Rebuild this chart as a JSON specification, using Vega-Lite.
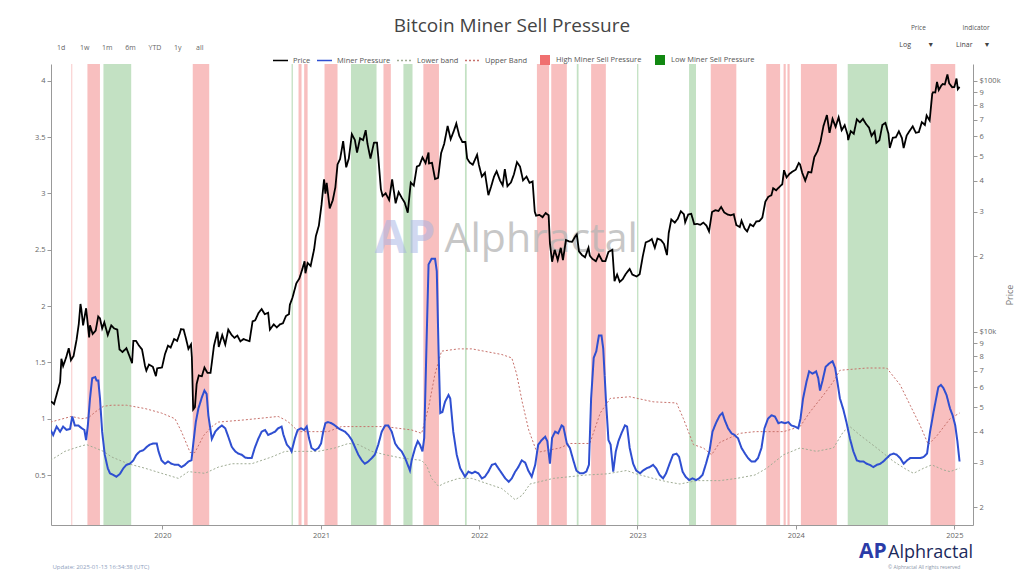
{
  "$schema": "https://vega.github.io/schema/vega-lite/v6.json",
  "width": 922,
  "height": 461,
  "autosize": {"type": "none"},
  "padding": {"left": 51, "top": 64, "right": 51, "bottom": 51},
  "title": {"text": "Bitcoin Miner Sell Pressure", "fontSize": 19, "font": "Open Sans", "fontWeight": "normal", "color": "#444444", "anchor": "middle", "offset": -11},
  "config": {
    "view": {"stroke": null},
    "font": "Open Sans",
    "axis": {"grid": false, "labelFont": "Open Sans", "labelFontSize": 7.5, "labelColor": "#666666", "domainColor": "#999999", "tickColor": "#999999", "tickSize": 4, "labelPadding": 2, "titleFont": "Open Sans", "titleFontWeight": "normal", "titleColor": "#777777", "titleFontSize": 9},
    "legend": {"labelFont": "Open Sans", "labelFontSize": 7.5, "labelColor": "#555555", "padding": 0}
  },
  "datasets": {
    "high": [
      {"d": "2019-06-05", "d2": "2019-06-07"},
      {"d": "2019-07-12", "d2": "2019-08-10"},
      {"d": "2020-03-11", "d2": "2020-04-18"},
      {"d": "2020-11-10", "d2": "2020-11-17"},
      {"d": "2020-11-23", "d2": "2020-12-01"},
      {"d": "2021-01-09", "d2": "2021-02-08"},
      {"d": "2021-05-25", "d2": "2021-06-11"},
      {"d": "2021-08-25", "d2": "2021-09-30"},
      {"d": "2022-05-14", "d2": "2022-06-11"},
      {"d": "2022-06-16", "d2": "2022-07-22"},
      {"d": "2022-09-16", "d2": "2022-10-20"},
      {"d": "2023-06-19", "d2": "2023-08-17"},
      {"d": "2023-10-25", "d2": "2023-11-26"},
      {"d": "2023-12-04", "d2": "2023-12-09"},
      {"d": "2023-12-13", "d2": "2023-12-18"},
      {"d": "2024-01-13", "d2": "2024-04-05"},
      {"d": "2024-11-07", "d2": "2025-01-03"}
    ],
    "low": [
      {"d": "2019-08-18", "d2": "2019-10-21"},
      {"d": "2020-10-25", "d2": "2020-10-28"},
      {"d": "2021-03-11", "d2": "2021-05-09"},
      {"d": "2021-07-10", "d2": "2021-07-31"},
      {"d": "2021-11-29", "d2": "2021-12-03"},
      {"d": "2022-08-14", "d2": "2022-08-18"},
      {"d": "2022-12-31", "d2": "2023-01-03"},
      {"d": "2023-04-30", "d2": "2023-05-16"},
      {"d": "2024-04-30", "d2": "2024-08-01"}
    ],
    "ub": [
      {"d": "2019-04-18", "v": 0.97}, {"d": "2019-06-05", "v": 1.02}, {"d": "2019-06-29", "v": 1.0}, {"d": "2019-07-15", "v": 1.01},
      {"d": "2019-07-30", "v": 1.06}, {"d": "2019-08-18", "v": 1.11}, {"d": "2019-09-06", "v": 1.12}, {"d": "2019-10-10", "v": 1.12},
      {"d": "2019-11-22", "v": 1.09}, {"d": "2019-12-30", "v": 1.05}, {"d": "2020-01-30", "v": 1.0}, {"d": "2020-02-14", "v": 0.885},
      {"d": "2020-03-05", "v": 0.7}, {"d": "2020-03-16", "v": 0.7}, {"d": "2020-04-05", "v": 0.85}, {"d": "2020-04-24", "v": 0.93},
      {"d": "2020-05-09", "v": 0.97}, {"d": "2020-07-10", "v": 0.99}, {"d": "2020-09-24", "v": 1.02}, {"d": "2020-10-10", "v": 0.99},
      {"d": "2020-10-21", "v": 0.96}, {"d": "2020-11-10", "v": 0.885}, {"d": "2021-01-17", "v": 0.885}, {"d": "2021-02-17", "v": 0.93},
      {"d": "2021-05-29", "v": 0.93}, {"d": "2021-06-28", "v": 0.915}, {"d": "2021-07-29", "v": 0.9}, {"d": "2021-08-21", "v": 0.87},
      {"d": "2021-09-06", "v": 1.1}, {"d": "2021-09-21", "v": 1.4}, {"d": "2021-10-06", "v": 1.6}, {"d": "2021-11-14", "v": 1.62},
      {"d": "2021-12-15", "v": 1.62}, {"d": "2022-02-22", "v": 1.57}, {"d": "2022-03-17", "v": 1.54}, {"d": "2022-03-28", "v": 1.4},
      {"d": "2022-04-10", "v": 1.15}, {"d": "2022-04-25", "v": 0.9}, {"d": "2022-05-14", "v": 0.7}, {"d": "2022-07-06", "v": 0.74},
      {"d": "2022-07-29", "v": 0.78}, {"d": "2022-09-13", "v": 0.78}, {"d": "2022-10-07", "v": 1.05}, {"d": "2022-10-30", "v": 1.18},
      {"d": "2022-12-14", "v": 1.195}, {"d": "2023-02-06", "v": 1.15}, {"d": "2023-04-01", "v": 1.14}, {"d": "2023-04-17", "v": 1.0},
      {"d": "2023-05-10", "v": 0.77}, {"d": "2023-06-02", "v": 0.74}, {"d": "2023-06-21", "v": 0.68}, {"d": "2023-07-10", "v": 0.79},
      {"d": "2023-08-25", "v": 0.87}, {"d": "2023-09-29", "v": 0.885}, {"d": "2023-12-04", "v": 0.885}, {"d": "2024-01-11", "v": 0.93},
      {"d": "2024-02-03", "v": 1.06}, {"d": "2024-03-05", "v": 1.21}, {"d": "2024-03-28", "v": 1.33}, {"d": "2024-04-12", "v": 1.43},
      {"d": "2024-06-13", "v": 1.45}, {"d": "2024-07-29", "v": 1.45}, {"d": "2024-08-29", "v": 1.3}, {"d": "2024-09-21", "v": 1.12},
      {"d": "2024-10-14", "v": 0.94}, {"d": "2024-11-02", "v": 0.77}, {"d": "2024-11-22", "v": 0.85}, {"d": "2024-12-22", "v": 1.0},
      {"d": "2025-01-13", "v": 1.05}
    ],
    "lb": [
      {"d": "2019-04-18", "v": 0.63}, {"d": "2019-05-21", "v": 0.71}, {"d": "2019-06-21", "v": 0.75}, {"d": "2019-07-10", "v": 0.77},
      {"d": "2019-07-30", "v": 0.74}, {"d": "2019-08-18", "v": 0.71}, {"d": "2019-09-06", "v": 0.66}, {"d": "2019-10-14", "v": 0.6},
      {"d": "2019-11-22", "v": 0.56}, {"d": "2019-12-30", "v": 0.515}, {"d": "2020-02-07", "v": 0.47}, {"d": "2020-03-01", "v": 0.53},
      {"d": "2020-04-08", "v": 0.515}, {"d": "2020-05-09", "v": 0.57}, {"d": "2020-06-09", "v": 0.6}, {"d": "2020-07-25", "v": 0.6},
      {"d": "2020-09-09", "v": 0.66}, {"d": "2020-10-10", "v": 0.71}, {"d": "2020-12-26", "v": 0.71}, {"d": "2021-02-02", "v": 0.74},
      {"d": "2021-03-05", "v": 0.78}, {"d": "2021-03-28", "v": 0.77}, {"d": "2021-04-28", "v": 0.71}, {"d": "2021-05-29", "v": 0.68},
      {"d": "2021-07-06", "v": 0.65}, {"d": "2021-08-21", "v": 0.63}, {"d": "2021-09-02", "v": 0.58}, {"d": "2021-09-13", "v": 0.47},
      {"d": "2021-09-29", "v": 0.4}, {"d": "2021-10-14", "v": 0.43}, {"d": "2021-11-14", "v": 0.47}, {"d": "2021-12-15", "v": 0.47},
      {"d": "2022-01-14", "v": 0.43}, {"d": "2022-02-22", "v": 0.38}, {"d": "2022-03-25", "v": 0.28}, {"d": "2022-04-10", "v": 0.32},
      {"d": "2022-04-28", "v": 0.42}, {"d": "2022-06-21", "v": 0.47}, {"d": "2022-09-05", "v": 0.5}, {"d": "2022-10-22", "v": 0.51},
      {"d": "2022-12-07", "v": 0.54}, {"d": "2022-12-29", "v": 0.51}, {"d": "2023-02-06", "v": 0.47}, {"d": "2023-03-10", "v": 0.44},
      {"d": "2023-04-09", "v": 0.42}, {"d": "2023-05-18", "v": 0.45}, {"d": "2023-07-10", "v": 0.45}, {"d": "2023-08-18", "v": 0.47},
      {"d": "2023-09-29", "v": 0.5}, {"d": "2023-10-26", "v": 0.56}, {"d": "2023-12-04", "v": 0.68}, {"d": "2024-01-11", "v": 0.74},
      {"d": "2024-02-18", "v": 0.71}, {"d": "2024-03-28", "v": 0.74}, {"d": "2024-04-20", "v": 0.885}, {"d": "2024-05-05", "v": 0.93},
      {"d": "2024-05-28", "v": 0.855}, {"d": "2024-07-06", "v": 0.74}, {"d": "2024-08-14", "v": 0.62}, {"d": "2024-09-14", "v": 0.545},
      {"d": "2024-09-29", "v": 0.515}, {"d": "2024-10-22", "v": 0.56}, {"d": "2024-11-10", "v": 0.59}, {"d": "2024-12-07", "v": 0.545},
      {"d": "2024-12-22", "v": 0.53}, {"d": "2025-01-13", "v": 0.56}
    ],
    "mp": [
      {"d": "2019-04-18", "v": 0.9}, {"d": "2019-04-24", "v": 0.855}, {"d": "2019-05-02", "v": 0.93}, {"d": "2019-05-10", "v": 0.885},
      {"d": "2019-05-17", "v": 0.93}, {"d": "2019-05-25", "v": 0.9}, {"d": "2019-06-02", "v": 0.91}, {"d": "2019-06-07", "v": 1.02},
      {"d": "2019-06-13", "v": 0.94}, {"d": "2019-06-21", "v": 0.94}, {"d": "2019-06-29", "v": 0.915}, {"d": "2019-07-05", "v": 0.9},
      {"d": "2019-07-09", "v": 0.81}, {"d": "2019-07-13", "v": 0.94}, {"d": "2019-07-18", "v": 1.18}, {"d": "2019-07-23", "v": 1.36},
      {"d": "2019-07-30", "v": 1.37}, {"d": "2019-08-02", "v": 1.34}, {"d": "2019-08-06", "v": 1.34}, {"d": "2019-08-10", "v": 1.18},
      {"d": "2019-08-15", "v": 0.885}, {"d": "2019-08-21", "v": 0.68}, {"d": "2019-08-28", "v": 0.56}, {"d": "2019-09-02", "v": 0.515},
      {"d": "2019-09-10", "v": 0.5}, {"d": "2019-09-17", "v": 0.485}, {"d": "2019-09-25", "v": 0.51}, {"d": "2019-10-03", "v": 0.56},
      {"d": "2019-10-10", "v": 0.59}, {"d": "2019-10-18", "v": 0.6}, {"d": "2019-10-26", "v": 0.63}, {"d": "2019-11-02", "v": 0.68},
      {"d": "2019-11-10", "v": 0.71}, {"d": "2019-11-18", "v": 0.72}, {"d": "2019-11-26", "v": 0.75}, {"d": "2019-12-03", "v": 0.77},
      {"d": "2019-12-11", "v": 0.78}, {"d": "2019-12-19", "v": 0.78}, {"d": "2019-12-23", "v": 0.71}, {"d": "2019-12-30", "v": 0.63},
      {"d": "2020-01-07", "v": 0.6}, {"d": "2020-01-14", "v": 0.62}, {"d": "2020-01-22", "v": 0.6}, {"d": "2020-01-30", "v": 0.59},
      {"d": "2020-02-07", "v": 0.59}, {"d": "2020-02-14", "v": 0.57}, {"d": "2020-02-22", "v": 0.59}, {"d": "2020-03-01", "v": 0.62},
      {"d": "2020-03-08", "v": 0.63}, {"d": "2020-03-12", "v": 0.77}, {"d": "2020-03-18", "v": 0.97}, {"d": "2020-03-24", "v": 1.09},
      {"d": "2020-04-01", "v": 1.19}, {"d": "2020-04-07", "v": 1.25}, {"d": "2020-04-12", "v": 1.22}, {"d": "2020-04-16", "v": 1.03},
      {"d": "2020-04-24", "v": 0.82}, {"d": "2020-05-02", "v": 0.885}, {"d": "2020-05-09", "v": 0.915}, {"d": "2020-05-17", "v": 0.94},
      {"d": "2020-05-25", "v": 0.915}, {"d": "2020-06-01", "v": 0.84}, {"d": "2020-06-09", "v": 0.75}, {"d": "2020-06-17", "v": 0.71},
      {"d": "2020-06-24", "v": 0.69}, {"d": "2020-07-02", "v": 0.68}, {"d": "2020-07-10", "v": 0.655}, {"d": "2020-07-17", "v": 0.65},
      {"d": "2020-07-25", "v": 0.65}, {"d": "2020-08-01", "v": 0.74}, {"d": "2020-08-09", "v": 0.82}, {"d": "2020-08-17", "v": 0.885},
      {"d": "2020-08-25", "v": 0.9}, {"d": "2020-09-01", "v": 0.855}, {"d": "2020-09-09", "v": 0.87}, {"d": "2020-09-17", "v": 0.885},
      {"d": "2020-09-24", "v": 0.915}, {"d": "2020-10-02", "v": 0.93}, {"d": "2020-10-06", "v": 0.86}, {"d": "2020-10-14", "v": 0.77},
      {"d": "2020-10-21", "v": 0.74}, {"d": "2020-10-25", "v": 0.71}, {"d": "2020-11-02", "v": 0.83}, {"d": "2020-11-08", "v": 0.9},
      {"d": "2020-11-16", "v": 0.915}, {"d": "2020-11-23", "v": 0.9}, {"d": "2020-11-29", "v": 0.93}, {"d": "2020-12-04", "v": 0.83},
      {"d": "2020-12-10", "v": 0.74}, {"d": "2020-12-18", "v": 0.72}, {"d": "2020-12-26", "v": 0.74}, {"d": "2021-01-01", "v": 0.78},
      {"d": "2021-01-06", "v": 0.885}, {"d": "2021-01-11", "v": 0.96}, {"d": "2021-01-17", "v": 0.97}, {"d": "2021-01-25", "v": 0.96},
      {"d": "2021-02-02", "v": 0.94}, {"d": "2021-02-10", "v": 0.915}, {"d": "2021-02-17", "v": 0.9}, {"d": "2021-02-25", "v": 0.885},
      {"d": "2021-03-05", "v": 0.855}, {"d": "2021-03-13", "v": 0.81}, {"d": "2021-03-21", "v": 0.74}, {"d": "2021-03-28", "v": 0.68},
      {"d": "2021-04-05", "v": 0.63}, {"d": "2021-04-12", "v": 0.6}, {"d": "2021-04-20", "v": 0.62}, {"d": "2021-04-28", "v": 0.65},
      {"d": "2021-05-05", "v": 0.68}, {"d": "2021-05-13", "v": 0.77}, {"d": "2021-05-21", "v": 0.885}, {"d": "2021-05-29", "v": 0.94},
      {"d": "2021-06-05", "v": 0.94}, {"d": "2021-06-13", "v": 0.885}, {"d": "2021-06-21", "v": 0.78}, {"d": "2021-06-28", "v": 0.74},
      {"d": "2021-07-06", "v": 0.71}, {"d": "2021-07-14", "v": 0.65}, {"d": "2021-07-20", "v": 0.59}, {"d": "2021-07-25", "v": 0.54},
      {"d": "2021-07-29", "v": 0.63}, {"d": "2021-08-06", "v": 0.74}, {"d": "2021-08-12", "v": 0.8}, {"d": "2021-08-17", "v": 0.77},
      {"d": "2021-08-23", "v": 0.71}, {"d": "2021-08-27", "v": 0.83}, {"d": "2021-09-02", "v": 1.77}, {"d": "2021-09-06", "v": 2.37},
      {"d": "2021-09-13", "v": 2.42}, {"d": "2021-09-21", "v": 2.42}, {"d": "2021-09-25", "v": 2.31}, {"d": "2021-09-29", "v": 1.62},
      {"d": "2021-10-03", "v": 1.05}, {"d": "2021-10-08", "v": 1.06}, {"d": "2021-10-14", "v": 1.15}, {"d": "2021-10-22", "v": 1.21},
      {"d": "2021-10-26", "v": 1.18}, {"d": "2021-11-02", "v": 0.885}, {"d": "2021-11-10", "v": 0.68}, {"d": "2021-11-18", "v": 0.56},
      {"d": "2021-11-29", "v": 0.485}, {"d": "2021-12-07", "v": 0.53}, {"d": "2021-12-15", "v": 0.515}, {"d": "2021-12-22", "v": 0.53},
      {"d": "2021-12-30", "v": 0.515}, {"d": "2022-01-07", "v": 0.47}, {"d": "2022-01-14", "v": 0.485}, {"d": "2022-01-22", "v": 0.53},
      {"d": "2022-01-30", "v": 0.59}, {"d": "2022-02-07", "v": 0.6}, {"d": "2022-02-14", "v": 0.56}, {"d": "2022-02-22", "v": 0.515},
      {"d": "2022-03-02", "v": 0.47}, {"d": "2022-03-10", "v": 0.44}, {"d": "2022-03-17", "v": 0.47}, {"d": "2022-03-25", "v": 0.53},
      {"d": "2022-04-01", "v": 0.57}, {"d": "2022-04-09", "v": 0.63}, {"d": "2022-04-17", "v": 0.61}, {"d": "2022-04-24", "v": 0.54},
      {"d": "2022-05-02", "v": 0.485}, {"d": "2022-05-10", "v": 0.59}, {"d": "2022-05-17", "v": 0.77}, {"d": "2022-05-25", "v": 0.81},
      {"d": "2022-06-02", "v": 0.84}, {"d": "2022-06-07", "v": 0.8}, {"d": "2022-06-13", "v": 0.6}, {"d": "2022-06-18", "v": 0.83},
      {"d": "2022-06-25", "v": 0.885}, {"d": "2022-07-02", "v": 0.87}, {"d": "2022-07-10", "v": 0.94}, {"d": "2022-07-14", "v": 0.93},
      {"d": "2022-07-22", "v": 0.78}, {"d": "2022-07-29", "v": 0.74}, {"d": "2022-08-06", "v": 0.63}, {"d": "2022-08-13", "v": 0.54},
      {"d": "2022-08-21", "v": 0.515}, {"d": "2022-08-29", "v": 0.515}, {"d": "2022-09-05", "v": 0.53}, {"d": "2022-09-11", "v": 0.59},
      {"d": "2022-09-16", "v": 1.18}, {"d": "2022-09-22", "v": 1.54}, {"d": "2022-09-28", "v": 1.6}, {"d": "2022-10-04", "v": 1.74},
      {"d": "2022-10-10", "v": 1.74}, {"d": "2022-10-14", "v": 1.62}, {"d": "2022-10-20", "v": 1.18}, {"d": "2022-10-26", "v": 0.81},
      {"d": "2022-10-31", "v": 0.77}, {"d": "2022-11-06", "v": 0.53}, {"d": "2022-11-12", "v": 0.71}, {"d": "2022-11-18", "v": 0.8},
      {"d": "2022-11-25", "v": 0.87}, {"d": "2022-12-03", "v": 0.94}, {"d": "2022-12-08", "v": 0.93}, {"d": "2022-12-14", "v": 0.74},
      {"d": "2022-12-22", "v": 0.6}, {"d": "2022-12-29", "v": 0.54}, {"d": "2023-01-07", "v": 0.515}, {"d": "2023-01-14", "v": 0.54},
      {"d": "2023-01-22", "v": 0.56}, {"d": "2023-01-29", "v": 0.57}, {"d": "2023-02-06", "v": 0.59}, {"d": "2023-02-13", "v": 0.56},
      {"d": "2023-02-21", "v": 0.5}, {"d": "2023-03-01", "v": 0.47}, {"d": "2023-03-08", "v": 0.515}, {"d": "2023-03-16", "v": 0.6},
      {"d": "2023-03-24", "v": 0.68}, {"d": "2023-04-01", "v": 0.69}, {"d": "2023-04-07", "v": 0.66}, {"d": "2023-04-15", "v": 0.53},
      {"d": "2023-04-22", "v": 0.485}, {"d": "2023-04-30", "v": 0.455}, {"d": "2023-05-08", "v": 0.47}, {"d": "2023-05-16", "v": 0.455},
      {"d": "2023-05-23", "v": 0.47}, {"d": "2023-05-31", "v": 0.5}, {"d": "2023-06-08", "v": 0.6}, {"d": "2023-06-16", "v": 0.71},
      {"d": "2023-06-23", "v": 0.885}, {"d": "2023-07-02", "v": 0.97}, {"d": "2023-07-10", "v": 1.03}, {"d": "2023-07-16", "v": 1.05},
      {"d": "2023-07-21", "v": 0.99}, {"d": "2023-07-29", "v": 0.915}, {"d": "2023-08-06", "v": 0.87}, {"d": "2023-08-13", "v": 0.855},
      {"d": "2023-08-21", "v": 0.825}, {"d": "2023-08-29", "v": 0.74}, {"d": "2023-09-06", "v": 0.69}, {"d": "2023-09-13", "v": 0.65},
      {"d": "2023-09-21", "v": 0.62}, {"d": "2023-09-29", "v": 0.62}, {"d": "2023-10-06", "v": 0.65}, {"d": "2023-10-14", "v": 0.74},
      {"d": "2023-10-21", "v": 0.915}, {"d": "2023-10-29", "v": 1.0}, {"d": "2023-11-06", "v": 1.03}, {"d": "2023-11-14", "v": 1.02},
      {"d": "2023-11-22", "v": 0.96}, {"d": "2023-11-29", "v": 0.97}, {"d": "2023-12-07", "v": 0.96}, {"d": "2023-12-15", "v": 0.97},
      {"d": "2023-12-22", "v": 0.94}, {"d": "2023-12-30", "v": 0.93}, {"d": "2024-01-07", "v": 0.915}, {"d": "2024-01-12", "v": 1.0},
      {"d": "2024-01-18", "v": 1.18}, {"d": "2024-01-26", "v": 1.33}, {"d": "2024-02-01", "v": 1.42}, {"d": "2024-02-09", "v": 1.4},
      {"d": "2024-02-17", "v": 1.42}, {"d": "2024-02-22", "v": 1.36}, {"d": "2024-02-26", "v": 1.25}, {"d": "2024-03-03", "v": 1.34},
      {"d": "2024-03-10", "v": 1.46}, {"d": "2024-03-18", "v": 1.49}, {"d": "2024-03-26", "v": 1.51}, {"d": "2024-04-01", "v": 1.45},
      {"d": "2024-04-06", "v": 1.33}, {"d": "2024-04-12", "v": 1.18}, {"d": "2024-04-20", "v": 1.08}, {"d": "2024-04-27", "v": 0.97},
      {"d": "2024-05-05", "v": 0.825}, {"d": "2024-05-13", "v": 0.71}, {"d": "2024-05-21", "v": 0.63}, {"d": "2024-05-28", "v": 0.62},
      {"d": "2024-06-05", "v": 0.62}, {"d": "2024-06-13", "v": 0.6}, {"d": "2024-06-20", "v": 0.59}, {"d": "2024-06-28", "v": 0.57},
      {"d": "2024-07-06", "v": 0.59}, {"d": "2024-07-14", "v": 0.6}, {"d": "2024-07-21", "v": 0.62}, {"d": "2024-07-29", "v": 0.65},
      {"d": "2024-08-06", "v": 0.68}, {"d": "2024-08-14", "v": 0.69}, {"d": "2024-08-21", "v": 0.68}, {"d": "2024-08-29", "v": 0.65},
      {"d": "2024-09-06", "v": 0.6}, {"d": "2024-09-14", "v": 0.63}, {"d": "2024-09-21", "v": 0.65}, {"d": "2024-09-29", "v": 0.65},
      {"d": "2024-10-07", "v": 0.65}, {"d": "2024-10-14", "v": 0.65}, {"d": "2024-10-22", "v": 0.66}, {"d": "2024-10-30", "v": 0.69},
      {"d": "2024-11-06", "v": 0.885}, {"d": "2024-11-14", "v": 1.06}, {"d": "2024-11-20", "v": 1.18}, {"d": "2024-11-25", "v": 1.28},
      {"d": "2024-12-01", "v": 1.3}, {"d": "2024-12-07", "v": 1.27}, {"d": "2024-12-14", "v": 1.21}, {"d": "2024-12-22", "v": 1.09},
      {"d": "2024-12-28", "v": 1.03}, {"d": "2025-01-03", "v": 0.94}, {"d": "2025-01-08", "v": 0.8}, {"d": "2025-01-13", "v": 0.62}
    ],
    "price": [
      {"d": "2019-04-19", "p": 5280}, {"d": "2019-04-26", "p": 5150}, {"d": "2019-05-03", "p": 5700}, {"d": "2019-05-10", "p": 6300},
      {"d": "2019-05-13", "p": 7800}, {"d": "2019-05-17", "p": 7300}, {"d": "2019-05-24", "p": 7900}, {"d": "2019-05-30", "p": 8600},
      {"d": "2019-06-04", "p": 7700}, {"d": "2019-06-10", "p": 8000}, {"d": "2019-06-17", "p": 9300}, {"d": "2019-06-22", "p": 10700},
      {"d": "2019-06-26", "p": 12900}, {"d": "2019-06-28", "p": 12300}, {"d": "2019-07-02", "p": 10600}, {"d": "2019-07-09", "p": 12400},
      {"d": "2019-07-16", "p": 9500}, {"d": "2019-07-18", "p": 10600}, {"d": "2019-07-24", "p": 9800}, {"d": "2019-07-31", "p": 10100},
      {"d": "2019-08-06", "p": 11500}, {"d": "2019-08-10", "p": 11300}, {"d": "2019-08-15", "p": 10300}, {"d": "2019-08-20", "p": 10900},
      {"d": "2019-08-28", "p": 9700}, {"d": "2019-09-05", "p": 10600}, {"d": "2019-09-12", "p": 10300}, {"d": "2019-09-19", "p": 10200},
      {"d": "2019-09-24", "p": 8500}, {"d": "2019-10-01", "p": 8300}, {"d": "2019-10-10", "p": 8600}, {"d": "2019-10-17", "p": 8000},
      {"d": "2019-10-23", "p": 7500}, {"d": "2019-10-26", "p": 9200}, {"d": "2019-11-01", "p": 9200}, {"d": "2019-11-08", "p": 8800},
      {"d": "2019-11-15", "p": 8500}, {"d": "2019-11-22", "p": 7300}, {"d": "2019-11-25", "p": 7000}, {"d": "2019-12-01", "p": 7400},
      {"d": "2019-12-10", "p": 7250}, {"d": "2019-12-17", "p": 6650}, {"d": "2019-12-20", "p": 7150}, {"d": "2019-12-31", "p": 7200},
      {"d": "2020-01-07", "p": 8150}, {"d": "2020-01-14", "p": 8800}, {"d": "2020-01-20", "p": 8650}, {"d": "2020-01-28", "p": 9350},
      {"d": "2020-02-04", "p": 9200}, {"d": "2020-02-10", "p": 9850}, {"d": "2020-02-13", "p": 10250}, {"d": "2020-02-19", "p": 10200},
      {"d": "2020-02-25", "p": 9300}, {"d": "2020-03-01", "p": 8550}, {"d": "2020-03-07", "p": 8900}, {"d": "2020-03-09", "p": 7900},
      {"d": "2020-03-12", "p": 4900}, {"d": "2020-03-16", "p": 5000}, {"d": "2020-03-20", "p": 6200}, {"d": "2020-03-25", "p": 6700},
      {"d": "2020-04-01", "p": 6650}, {"d": "2020-04-07", "p": 7200}, {"d": "2020-04-14", "p": 6850}, {"d": "2020-04-21", "p": 6850},
      {"d": "2020-04-29", "p": 8800}, {"d": "2020-05-07", "p": 10000}, {"d": "2020-05-10", "p": 8700}, {"d": "2020-05-18", "p": 9700},
      {"d": "2020-05-25", "p": 8900}, {"d": "2020-06-01", "p": 10200}, {"d": "2020-06-08", "p": 9750}, {"d": "2020-06-15", "p": 9450},
      {"d": "2020-06-22", "p": 9650}, {"d": "2020-06-29", "p": 9150}, {"d": "2020-07-06", "p": 9350}, {"d": "2020-07-13", "p": 9250},
      {"d": "2020-07-20", "p": 9170}, {"d": "2020-07-27", "p": 11000}, {"d": "2020-08-02", "p": 11100}, {"d": "2020-08-10", "p": 11900},
      {"d": "2020-08-17", "p": 12300}, {"d": "2020-08-24", "p": 11750}, {"d": "2020-09-01", "p": 11900}, {"d": "2020-09-05", "p": 10200},
      {"d": "2020-09-14", "p": 10700}, {"d": "2020-09-21", "p": 10400}, {"d": "2020-09-28", "p": 10700}, {"d": "2020-10-05", "p": 10800},
      {"d": "2020-10-12", "p": 11550}, {"d": "2020-10-19", "p": 11750}, {"d": "2020-10-21", "p": 12800}, {"d": "2020-10-27", "p": 13650},
      {"d": "2020-11-05", "p": 15600}, {"d": "2020-11-12", "p": 16300}, {"d": "2020-11-19", "p": 17800}, {"d": "2020-11-24", "p": 19100},
      {"d": "2020-11-26", "p": 17100}, {"d": "2020-12-01", "p": 18800}, {"d": "2020-12-08", "p": 18300}, {"d": "2020-12-16", "p": 21300},
      {"d": "2020-12-20", "p": 24000}, {"d": "2020-12-27", "p": 26500}, {"d": "2021-01-02", "p": 32000}, {"d": "2021-01-08", "p": 40500},
      {"d": "2021-01-11", "p": 35500}, {"d": "2021-01-14", "p": 39200}, {"d": "2021-01-21", "p": 31000}, {"d": "2021-01-28", "p": 33400},
      {"d": "2021-02-03", "p": 37600}, {"d": "2021-02-08", "p": 46400}, {"d": "2021-02-14", "p": 48800}, {"d": "2021-02-21", "p": 57500},
      {"d": "2021-02-28", "p": 45200}, {"d": "2021-03-06", "p": 49000}, {"d": "2021-03-13", "p": 61200}, {"d": "2021-03-20", "p": 58100},
      {"d": "2021-03-25", "p": 51700}, {"d": "2021-04-01", "p": 59000}, {"d": "2021-04-08", "p": 58000}, {"d": "2021-04-14", "p": 63500},
      {"d": "2021-04-18", "p": 56200}, {"d": "2021-04-25", "p": 49000}, {"d": "2021-05-03", "p": 56600}, {"d": "2021-05-10", "p": 56700},
      {"d": "2021-05-13", "p": 49700}, {"d": "2021-05-19", "p": 37000}, {"d": "2021-05-23", "p": 34700}, {"d": "2021-05-30", "p": 35600},
      {"d": "2021-06-07", "p": 33500}, {"d": "2021-06-14", "p": 40500}, {"d": "2021-06-22", "p": 32500}, {"d": "2021-06-29", "p": 36000},
      {"d": "2021-07-06", "p": 34200}, {"d": "2021-07-13", "p": 32700}, {"d": "2021-07-20", "p": 29800}, {"d": "2021-07-27", "p": 39300},
      {"d": "2021-08-03", "p": 38200}, {"d": "2021-08-10", "p": 45500}, {"d": "2021-08-16", "p": 46000}, {"d": "2021-08-23", "p": 49500},
      {"d": "2021-08-30", "p": 47000}, {"d": "2021-09-06", "p": 51800}, {"d": "2021-09-07", "p": 46800}, {"d": "2021-09-14", "p": 47100},
      {"d": "2021-09-21", "p": 40600}, {"d": "2021-09-28", "p": 41000}, {"d": "2021-10-05", "p": 51500}, {"d": "2021-10-12", "p": 56000},
      {"d": "2021-10-20", "p": 66000}, {"d": "2021-10-27", "p": 58500}, {"d": "2021-11-03", "p": 62900}, {"d": "2021-11-09", "p": 67500},
      {"d": "2021-11-16", "p": 60300}, {"d": "2021-11-23", "p": 57000}, {"d": "2021-11-30", "p": 57000}, {"d": "2021-12-04", "p": 49000},
      {"d": "2021-12-10", "p": 47200}, {"d": "2021-12-17", "p": 46300}, {"d": "2021-12-27", "p": 50700}, {"d": "2021-12-31", "p": 46300},
      {"d": "2022-01-07", "p": 41500}, {"d": "2022-01-14", "p": 43000}, {"d": "2022-01-22", "p": 35000}, {"d": "2022-01-28", "p": 37700},
      {"d": "2022-02-04", "p": 41500}, {"d": "2022-02-10", "p": 43600}, {"d": "2022-02-18", "p": 40000}, {"d": "2022-02-24", "p": 38300},
      {"d": "2022-03-01", "p": 44400}, {"d": "2022-03-07", "p": 38000}, {"d": "2022-03-15", "p": 39300}, {"d": "2022-03-22", "p": 42400},
      {"d": "2022-03-29", "p": 47400}, {"d": "2022-04-05", "p": 45500}, {"d": "2022-04-12", "p": 40100}, {"d": "2022-04-20", "p": 41500},
      {"d": "2022-04-27", "p": 39200}, {"d": "2022-05-04", "p": 39700}, {"d": "2022-05-09", "p": 30100}, {"d": "2022-05-12", "p": 29000},
      {"d": "2022-05-20", "p": 29200}, {"d": "2022-05-27", "p": 28600}, {"d": "2022-06-03", "p": 29700}, {"d": "2022-06-10", "p": 29100},
      {"d": "2022-06-13", "p": 22500}, {"d": "2022-06-18", "p": 19000}, {"d": "2022-06-24", "p": 21200}, {"d": "2022-07-01", "p": 19300},
      {"d": "2022-07-08", "p": 21600}, {"d": "2022-07-13", "p": 19300}, {"d": "2022-07-20", "p": 23200}, {"d": "2022-07-27", "p": 22900},
      {"d": "2022-08-03", "p": 22800}, {"d": "2022-08-10", "p": 23900}, {"d": "2022-08-14", "p": 24400}, {"d": "2022-08-19", "p": 20900},
      {"d": "2022-08-26", "p": 20200}, {"d": "2022-09-02", "p": 19800}, {"d": "2022-09-10", "p": 21600}, {"d": "2022-09-13", "p": 20100},
      {"d": "2022-09-19", "p": 19500}, {"d": "2022-09-27", "p": 19100}, {"d": "2022-10-04", "p": 20300}, {"d": "2022-10-12", "p": 19100},
      {"d": "2022-10-19", "p": 19100}, {"d": "2022-10-26", "p": 20800}, {"d": "2022-11-04", "p": 21200}, {"d": "2022-11-09", "p": 15900},
      {"d": "2022-11-15", "p": 16900}, {"d": "2022-11-21", "p": 15800}, {"d": "2022-11-28", "p": 16200}, {"d": "2022-12-05", "p": 17000},
      {"d": "2022-12-14", "p": 17800}, {"d": "2022-12-20", "p": 16900}, {"d": "2022-12-30", "p": 16600}, {"d": "2023-01-06", "p": 16950},
      {"d": "2023-01-13", "p": 19900}, {"d": "2023-01-20", "p": 22700}, {"d": "2023-01-28", "p": 23000}, {"d": "2023-02-03", "p": 23400},
      {"d": "2023-02-10", "p": 21600}, {"d": "2023-02-16", "p": 23500}, {"d": "2023-02-24", "p": 23200}, {"d": "2023-03-03", "p": 22400},
      {"d": "2023-03-10", "p": 20200}, {"d": "2023-03-14", "p": 24700}, {"d": "2023-03-20", "p": 28000}, {"d": "2023-03-28", "p": 27200},
      {"d": "2023-04-04", "p": 28200}, {"d": "2023-04-11", "p": 30200}, {"d": "2023-04-18", "p": 29400}, {"d": "2023-04-21", "p": 27300},
      {"d": "2023-04-28", "p": 29300}, {"d": "2023-05-05", "p": 29500}, {"d": "2023-05-12", "p": 26800}, {"d": "2023-05-19", "p": 26900},
      {"d": "2023-05-26", "p": 26700}, {"d": "2023-06-02", "p": 27200}, {"d": "2023-06-09", "p": 26500}, {"d": "2023-06-15", "p": 25100},
      {"d": "2023-06-22", "p": 30000}, {"d": "2023-06-30", "p": 30500}, {"d": "2023-07-07", "p": 30300}, {"d": "2023-07-13", "p": 31400},
      {"d": "2023-07-20", "p": 29900}, {"d": "2023-07-28", "p": 29300}, {"d": "2023-08-04", "p": 29100}, {"d": "2023-08-11", "p": 29400},
      {"d": "2023-08-17", "p": 26600}, {"d": "2023-08-25", "p": 26100}, {"d": "2023-08-29", "p": 27700}, {"d": "2023-09-05", "p": 25800},
      {"d": "2023-09-11", "p": 25100}, {"d": "2023-09-18", "p": 26800}, {"d": "2023-09-25", "p": 26300}, {"d": "2023-10-02", "p": 27500},
      {"d": "2023-10-09", "p": 27600}, {"d": "2023-10-16", "p": 28500}, {"d": "2023-10-23", "p": 33000}, {"d": "2023-10-30", "p": 34500},
      {"d": "2023-11-06", "p": 35000}, {"d": "2023-11-10", "p": 37300}, {"d": "2023-11-17", "p": 36600}, {"d": "2023-11-24", "p": 37700},
      {"d": "2023-12-01", "p": 38700}, {"d": "2023-12-05", "p": 44000}, {"d": "2023-12-11", "p": 41200}, {"d": "2023-12-18", "p": 42600},
      {"d": "2023-12-25", "p": 43500}, {"d": "2024-01-01", "p": 44200}, {"d": "2024-01-08", "p": 47000}, {"d": "2024-01-11", "p": 46400},
      {"d": "2024-01-16", "p": 43000}, {"d": "2024-01-23", "p": 40000}, {"d": "2024-01-30", "p": 43300}, {"d": "2024-02-06", "p": 43100},
      {"d": "2024-02-13", "p": 49700}, {"d": "2024-02-20", "p": 52300}, {"d": "2024-02-27", "p": 57000}, {"d": "2024-03-05", "p": 66000},
      {"d": "2024-03-13", "p": 73000}, {"d": "2024-03-19", "p": 62000}, {"d": "2024-03-26", "p": 70500}, {"d": "2024-04-02", "p": 65500},
      {"d": "2024-04-09", "p": 71500}, {"d": "2024-04-16", "p": 63500}, {"d": "2024-04-23", "p": 66500}, {"d": "2024-04-30", "p": 60700},
      {"d": "2024-05-01", "p": 58000}, {"d": "2024-05-07", "p": 63000}, {"d": "2024-05-14", "p": 61500}, {"d": "2024-05-21", "p": 70200},
      {"d": "2024-05-28", "p": 68300}, {"d": "2024-06-04", "p": 70500}, {"d": "2024-06-11", "p": 67300}, {"d": "2024-06-18", "p": 65100},
      {"d": "2024-06-24", "p": 60300}, {"d": "2024-07-01", "p": 62800}, {"d": "2024-07-05", "p": 56600}, {"d": "2024-07-12", "p": 57900},
      {"d": "2024-07-19", "p": 66700}, {"d": "2024-07-26", "p": 67900}, {"d": "2024-08-02", "p": 61400}, {"d": "2024-08-05", "p": 54000},
      {"d": "2024-08-12", "p": 59300}, {"d": "2024-08-19", "p": 59500}, {"d": "2024-08-26", "p": 62900}, {"d": "2024-09-02", "p": 59100},
      {"d": "2024-09-06", "p": 53900}, {"d": "2024-09-13", "p": 60500}, {"d": "2024-09-20", "p": 63200}, {"d": "2024-09-27", "p": 65800},
      {"d": "2024-10-04", "p": 62100}, {"d": "2024-10-11", "p": 62400}, {"d": "2024-10-18", "p": 68400}, {"d": "2024-10-25", "p": 66600},
      {"d": "2024-10-29", "p": 72700}, {"d": "2024-11-05", "p": 69400}, {"d": "2024-11-11", "p": 88700}, {"d": "2024-11-13", "p": 90000},
      {"d": "2024-11-18", "p": 89800}, {"d": "2024-11-22", "p": 98900}, {"d": "2024-11-26", "p": 91900}, {"d": "2024-12-02", "p": 95800},
      {"d": "2024-12-05", "p": 97000}, {"d": "2024-12-10", "p": 96600}, {"d": "2024-12-16", "p": 106000}, {"d": "2024-12-20", "p": 97700},
      {"d": "2024-12-27", "p": 94200}, {"d": "2025-01-01", "p": 94400}, {"d": "2025-01-06", "p": 102000}, {"d": "2025-01-09", "p": 92500},
      {"d": "2025-01-13", "p": 94500}
    ]
  },
  "layer": [
    {
      "data": {"name": "high"},
      "mark": {"type": "rect", "fillOpacity": 0.45, "clip": true},
      "encoding": {
        "x": {"field": "d", "type": "temporal", "scale": {"domain": [{"year": 2019, "month": 4, "date": 19}, {"year": 2025, "month": 2, "date": 13}]},
              "axis": {"format": "%Y", "tickCount": {"interval": "year", "step": 1}, "labelFlush": false, "title": "Update: 2025-01-13 16:34:38 (UTC)", "titleAnchor": "start", "titleAlign": "left", "titleBaseline": "middle", "titleX": 1, "titleY": 41, "titleFontSize": 6, "titleColor": "#8ea0bd"}},
        "x2": {"field": "d2"},
        "fill": {"datum": "High Miner Sell Pressure", "type": "nominal",
                 "scale": {"domain": ["High Miner Sell Pressure", "Low Miner Sell Pressure"], "range": ["#f07070", "#118811"]},
                 "legend": {"orient": "none", "legendX": 489, "legendY": -9, "direction": "horizontal", "title": null, "symbolType": "square", "symbolSize": 100, "symbolStrokeWidth": 0, "symbolOpacity": 1, "columnPadding": 13, "labelOffset": 6, "labelFontSize": 7.5, "labelColor": "#555555", "padding": 0}}
      }
    },
    {
      "data": {"name": "low"},
      "mark": {"type": "rect", "fillOpacity": 0.25, "clip": true},
      "encoding": {
        "x": {"field": "d", "type": "temporal", "scale": {"domain": [{"year": 2019, "month": 4, "date": 19}, {"year": 2025, "month": 2, "date": 13}]}},
        "x2": {"field": "d2"},
        "fill": {"datum": "Low Miner Sell Pressure", "type": "nominal", "scale": {"domain": ["High Miner Sell Pressure", "Low Miner Sell Pressure"], "range": ["#f07070", "#118811"]}}
      }
    },
    {
      "layer": [
        {
          "data": {"name": "lb"},
          "mark": {"type": "line", "strokeWidth": 1, "clip": true},
          "encoding": {
            "x": {"field": "d", "type": "temporal", "scale": {"domain": [{"year": 2019, "month": 4, "date": 19}, {"year": 2025, "month": 2, "date": 13}]}},
            "y": {"field": "v", "type": "quantitative", "scale": {"domain": [0.056, 4.15], "nice": false, "zero": false}, "axis": {"orient": "left", "values": [0.5, 1, 1.5, 2, 2.5, 3, 3.5, 4], "title": null, "labelExpr": "'' + datum.value"}},
            "stroke": {"datum": "Lower band", "type": "nominal", "scale": {"domain": ["Price", "Miner Pressure", "Lower band", "Upper Band"], "range": ["#000000", "#2f4fd1", "#9fac94", "#c7716b"]},
                       "legend": {"orient": "none", "legendX": 221, "legendY": -12, "direction": "horizontal", "title": null, "symbolType": "stroke", "symbolSize": 225, "symbolStrokeWidth": 1.5, "columnPadding": 3, "labelOffset": 4, "labelFontSize": 7.5, "labelColor": "#555555", "padding": 0}},
            "strokeDash": {"datum": "Lower band", "type": "nominal", "scale": {"domain": ["Price", "Miner Pressure", "Lower band", "Upper Band"], "range": [[1, 0], [1, 0], [2, 2], [2, 2]]}}
          }
        },
        {
          "data": {"name": "ub"},
          "mark": {"type": "line", "strokeWidth": 1, "clip": true},
          "encoding": {
            "x": {"field": "d", "type": "temporal", "scale": {"domain": [{"year": 2019, "month": 4, "date": 19}, {"year": 2025, "month": 2, "date": 13}]}},
            "y": {"field": "v", "type": "quantitative", "scale": {"domain": [0.056, 4.15], "nice": false, "zero": false}, "axis": {"orient": "left", "values": [0.5, 1, 1.5, 2, 2.5, 3, 3.5, 4], "title": null, "labelExpr": "'' + datum.value"}},
            "stroke": {"datum": "Upper Band", "type": "nominal", "scale": {"domain": ["Price", "Miner Pressure", "Lower band", "Upper Band"], "range": ["#000000", "#2f4fd1", "#9fac94", "#c7716b"]}},
            "strokeDash": {"datum": "Upper Band", "type": "nominal", "scale": {"domain": ["Price", "Miner Pressure", "Lower band", "Upper Band"], "range": [[1, 0], [1, 0], [2, 2], [2, 2]]}}
          }
        },
        {
          "data": {"name": "mp"},
          "mark": {"type": "line", "strokeWidth": 2, "clip": true},
          "encoding": {
            "x": {"field": "d", "type": "temporal", "scale": {"domain": [{"year": 2019, "month": 4, "date": 19}, {"year": 2025, "month": 2, "date": 13}]}},
            "y": {"field": "v", "type": "quantitative", "scale": {"domain": [0.056, 4.15], "nice": false, "zero": false}, "axis": {"orient": "left", "values": [0.5, 1, 1.5, 2, 2.5, 3, 3.5, 4], "title": null, "labelExpr": "'' + datum.value"}},
            "stroke": {"datum": "Miner Pressure", "type": "nominal", "scale": {"domain": ["Price", "Miner Pressure", "Lower band", "Upper Band"], "range": ["#000000", "#2f4fd1", "#9fac94", "#c7716b"]}},
            "strokeDash": {"datum": "Miner Pressure", "type": "nominal", "scale": {"domain": ["Price", "Miner Pressure", "Lower band", "Upper Band"], "range": [[1, 0], [1, 0], [2, 2], [2, 2]]}}
          }
        },
        {
          "data": {"values": [{}]},
          "mark": {"type": "text", "text": "AP", "fontSize": 46, "fontWeight": "bold", "font": "Open Sans", "fill": "#a4b2e4", "opacity": 0.5, "align": "center", "baseline": "middle"},
          "encoding": {
            "x": {"datum": {"year": 2021, "month": 7, "date": 14}, "type": "temporal", "scale": {"domain": [{"year": 2019, "month": 4, "date": 19}, {"year": 2025, "month": 2, "date": 13}]},
                  "axis": {"format": "%Y", "tickCount": {"interval": "year", "step": 1}, "labelFlush": false, "title": "Update: 2025-01-13 16:34:38 (UTC)", "titleAnchor": "start", "titleAlign": "left", "titleBaseline": "middle", "titleX": 1, "titleY": 41, "titleFontSize": 6, "titleColor": "#8ea0bd"}},
            "y": {"datum": 2.6, "type": "quantitative", "scale": {"domain": [0.056, 4.15], "nice": false, "zero": false}, "axis": {"orient": "left", "values": [0.5, 1, 1.5, 2, 2.5, 3, 3.5, 4], "title": null, "labelExpr": "'' + datum.value"}}
          }
        },
        {
          "data": {"values": [{}]},
          "mark": {"type": "text", "text": "Alphractal", "fontSize": 41, "font": "Open Sans", "fill": "#b5b5b5", "opacity": 0.75, "align": "center", "baseline": "middle"},
          "encoding": {
            "x": {"datum": {"year": 2022, "month": 5, "date": 24}, "type": "temporal", "scale": {"domain": [{"year": 2019, "month": 4, "date": 19}, {"year": 2025, "month": 2, "date": 13}]},
                  "axis": {"format": "%Y", "tickCount": {"interval": "year", "step": 1}, "labelFlush": false, "title": "Update: 2025-01-13 16:34:38 (UTC)", "titleAnchor": "start", "titleAlign": "left", "titleBaseline": "middle", "titleX": 1, "titleY": 41, "titleFontSize": 6, "titleColor": "#8ea0bd"}},
            "y": {"datum": 2.59, "type": "quantitative", "scale": {"domain": [0.056, 4.15], "nice": false, "zero": false}, "axis": {"orient": "left", "values": [0.5, 1, 1.5, 2, 2.5, 3, 3.5, 4], "title": null, "labelExpr": "'' + datum.value"}}
          }
        },
        {
          "data": {"values": [{}]},
          "mark": {"type": "text", "text": "AP", "fontSize": 21, "fontWeight": "bold", "font": "Open Sans", "fill": "#2b3ca8", "align": "right", "baseline": "alphabetic"},
          "encoding": {
            "x": {"datum": {"year": 2024, "month": 7, "date": 29}, "type": "temporal", "scale": {"domain": [{"year": 2019, "month": 4, "date": 19}, {"year": 2025, "month": 2, "date": 13}]},
                  "axis": {"format": "%Y", "tickCount": {"interval": "year", "step": 1}, "labelFlush": false, "title": "Update: 2025-01-13 16:34:38 (UTC)", "titleAnchor": "start", "titleAlign": "left", "titleBaseline": "middle", "titleX": 1, "titleY": 41, "titleFontSize": 6, "titleColor": "#8ea0bd"}},
            "y": {"datum": -0.237, "type": "quantitative", "scale": {"domain": [0.056, 4.15], "nice": false, "zero": false}, "axis": {"orient": "left", "values": [0.5, 1, 1.5, 2, 2.5, 3, 3.5, 4], "title": null, "labelExpr": "'' + datum.value"}}
          }
        },
        {
          "data": {"values": [{}]},
          "mark": {"type": "text", "text": "Alphractal", "fontSize": 18, "font": "Open Sans", "fill": "#1c2a5c", "align": "left", "baseline": "alphabetic"},
          "encoding": {
            "x": {"datum": {"year": 2024, "month": 8, "date": 1}, "type": "temporal", "scale": {"domain": [{"year": 2019, "month": 4, "date": 19}, {"year": 2025, "month": 2, "date": 13}]},
                  "axis": {"format": "%Y", "tickCount": {"interval": "year", "step": 1}, "labelFlush": false, "title": "Update: 2025-01-13 16:34:38 (UTC)", "titleAnchor": "start", "titleAlign": "left", "titleBaseline": "middle", "titleX": 1, "titleY": 41, "titleFontSize": 6, "titleColor": "#8ea0bd"}},
            "y": {"datum": -0.237, "type": "quantitative", "scale": {"domain": [0.056, 4.15], "nice": false, "zero": false}, "axis": {"orient": "left", "values": [0.5, 1, 1.5, 2, 2.5, 3, 3.5, 4], "title": null, "labelExpr": "'' + datum.value"}}
          }
        },
        {
          "data": {"values": [{}]},
          "mark": {"type": "text", "text": "© Alphractal All rights reserved", "fontSize": 5, "font": "Open Sans", "fill": "#8a96a8", "align": "left", "baseline": "alphabetic"},
          "encoding": {
            "x": {"datum": {"year": 2024, "month": 8, "date": 1}, "type": "temporal", "scale": {"domain": [{"year": 2019, "month": 4, "date": 19}, {"year": 2025, "month": 2, "date": 13}]},
                  "axis": {"format": "%Y", "tickCount": {"interval": "year", "step": 1}, "labelFlush": false, "title": "Update: 2025-01-13 16:34:38 (UTC)", "titleAnchor": "start", "titleAlign": "left", "titleBaseline": "middle", "titleX": 1, "titleY": 41, "titleFontSize": 6, "titleColor": "#8ea0bd"}},
            "y": {"datum": -0.335, "type": "quantitative", "scale": {"domain": [0.056, 4.15], "nice": false, "zero": false}, "axis": {"orient": "left", "values": [0.5, 1, 1.5, 2, 2.5, 3, 3.5, 4], "title": null, "labelExpr": "'' + datum.value"}}
          }
        },
        {
          "data": {"values": [{}]},
          "mark": {"type": "text", "text": "1d\u00a0\u00a0\u00a0\u00a0\u00a0\u00a0\u00a0\u00a01w\u00a0\u00a0\u00a0\u00a0\u00a0\u00a0\u00a01m\u00a0\u00a0\u00a0\u00a0\u00a0\u00a0\u00a06m\u00a0\u00a0\u00a0\u00a0\u00a0\u00a0\u00a0YTD\u00a0\u00a0\u00a0\u00a0\u00a0\u00a0\u00a01y\u00a0\u00a0\u00a0\u00a0\u00a0\u00a0\u00a0\u00a0all", "fontSize": 7, "font": "Open Sans", "fill": "#666666", "align": "left", "baseline": "middle"},
          "encoding": {
            "x": {"datum": {"year": 2019, "month": 5, "date": 3}, "type": "temporal", "scale": {"domain": [{"year": 2019, "month": 4, "date": 19}, {"year": 2025, "month": 2, "date": 13}]},
                  "axis": {"format": "%Y", "tickCount": {"interval": "year", "step": 1}, "labelFlush": false, "title": "Update: 2025-01-13 16:34:38 (UTC)", "titleAnchor": "start", "titleAlign": "left", "titleBaseline": "middle", "titleX": 1, "titleY": 41, "titleFontSize": 6, "titleColor": "#8ea0bd"}},
            "y": {"datum": 4.293, "type": "quantitative", "scale": {"domain": [0.056, 4.15], "nice": false, "zero": false}, "axis": {"orient": "left", "values": [0.5, 1, 1.5, 2, 2.5, 3, 3.5, 4], "title": null, "labelExpr": "'' + datum.value"}}
          }
        },
        {
          "data": {"values": [{}]},
          "mark": {"type": "text", "text": "Price", "fontSize": 6.5, "font": "Open Sans", "fill": "#555555", "align": "center", "baseline": "middle"},
          "encoding": {
            "x": {"datum": {"year": 2024, "month": 10, "date": 10}, "type": "temporal", "scale": {"domain": [{"year": 2019, "month": 4, "date": 19}, {"year": 2025, "month": 2, "date": 13}]},
                  "axis": {"format": "%Y", "tickCount": {"interval": "year", "step": 1}, "labelFlush": false, "title": "Update: 2025-01-13 16:34:38 (UTC)", "titleAnchor": "start", "titleAlign": "left", "titleBaseline": "middle", "titleX": 1, "titleY": 41, "titleFontSize": 6, "titleColor": "#8ea0bd"}},
            "y": {"datum": 4.471, "type": "quantitative", "scale": {"domain": [0.056, 4.15], "nice": false, "zero": false}, "axis": {"orient": "left", "values": [0.5, 1, 1.5, 2, 2.5, 3, 3.5, 4], "title": null, "labelExpr": "'' + datum.value"}}
          }
        },
        {
          "data": {"values": [{}]},
          "mark": {"type": "text", "text": "Indicator", "fontSize": 6.5, "font": "Open Sans", "fill": "#555555", "align": "center", "baseline": "middle"},
          "encoding": {
            "x": {"datum": {"year": 2025, "month": 2, "date": 20}, "type": "temporal", "scale": {"domain": [{"year": 2019, "month": 4, "date": 19}, {"year": 2025, "month": 2, "date": 13}]},
                  "axis": {"format": "%Y", "tickCount": {"interval": "year", "step": 1}, "labelFlush": false, "title": "Update: 2025-01-13 16:34:38 (UTC)", "titleAnchor": "start", "titleAlign": "left", "titleBaseline": "middle", "titleX": 1, "titleY": 41, "titleFontSize": 6, "titleColor": "#8ea0bd"}},
            "y": {"datum": 4.471, "type": "quantitative", "scale": {"domain": [0.056, 4.15], "nice": false, "zero": false}, "axis": {"orient": "left", "values": [0.5, 1, 1.5, 2, 2.5, 3, 3.5, 4], "title": null, "labelExpr": "'' + datum.value"}}
          }
        },
        {
          "data": {"values": [{}]},
          "mark": {"type": "text", "text": "Log\u00a0\u00a0\u00a0\u00a0\u00a0\u00a0\u00a0\u00a0\u00a0▼", "fontSize": 7, "font": "Open Sans", "fill": "#444444", "align": "left", "baseline": "middle"},
          "encoding": {
            "x": {"datum": {"year": 2024, "month": 8, "date": 27}, "type": "temporal", "scale": {"domain": [{"year": 2019, "month": 4, "date": 19}, {"year": 2025, "month": 2, "date": 13}]},
                  "axis": {"format": "%Y", "tickCount": {"interval": "year", "step": 1}, "labelFlush": false, "title": "Update: 2025-01-13 16:34:38 (UTC)", "titleAnchor": "start", "titleAlign": "left", "titleBaseline": "middle", "titleX": 1, "titleY": 41, "titleFontSize": 6, "titleColor": "#8ea0bd"}},
            "y": {"datum": 4.32, "type": "quantitative", "scale": {"domain": [0.056, 4.15], "nice": false, "zero": false}, "axis": {"orient": "left", "values": [0.5, 1, 1.5, 2, 2.5, 3, 3.5, 4], "title": null, "labelExpr": "'' + datum.value"}}
          }
        },
        {
          "data": {"values": [{}]},
          "mark": {"type": "text", "text": "Linar\u00a0\u00a0\u00a0\u00a0\u00a0\u00a0▼", "fontSize": 7, "font": "Open Sans", "fill": "#444444", "align": "left", "baseline": "middle"},
          "encoding": {
            "x": {"datum": {"year": 2025, "month": 1, "date": 5}, "type": "temporal", "scale": {"domain": [{"year": 2019, "month": 4, "date": 19}, {"year": 2025, "month": 2, "date": 13}]},
                  "axis": {"format": "%Y", "tickCount": {"interval": "year", "step": 1}, "labelFlush": false, "title": "Update: 2025-01-13 16:34:38 (UTC)", "titleAnchor": "start", "titleAlign": "left", "titleBaseline": "middle", "titleX": 1, "titleY": 41, "titleFontSize": 6, "titleColor": "#8ea0bd"}},
            "y": {"datum": 4.32, "type": "quantitative", "scale": {"domain": [0.056, 4.15], "nice": false, "zero": false}, "axis": {"orient": "left", "values": [0.5, 1, 1.5, 2, 2.5, 3, 3.5, 4], "title": null, "labelExpr": "'' + datum.value"}}
          }
        }
      ]
    },
    {
      "data": {"name": "price"},
      "mark": {"type": "line", "strokeWidth": 1.8, "clip": true},
      "encoding": {
        "x": {"field": "d", "type": "temporal", "scale": {"domain": [{"year": 2019, "month": 4, "date": 19}, {"year": 2025, "month": 2, "date": 13}]}},
        "y": {"field": "p", "type": "quantitative", "scale": {"type": "log", "domain": [1698, 116600], "nice": false},
              "axis": {"orient": "right", "values": [2000, 3000, 4000, 5000, 6000, 7000, 8000, 9000, 10000, 20000, 30000, 40000, 50000, 60000, 70000, 80000, 90000, 100000],
                       "labelExpr": "datum.value == 100000 ? '$100k' : datum.value == 10000 ? '$10k' : '' + round(datum.value / (datum.value < 10000 ? 1000 : 10000))",
                       "title": "Price", "titleAngle": 270, "titlePadding": 14}},
        "stroke": {"datum": "Price", "type": "nominal", "scale": {"domain": ["Price", "Miner Pressure", "Lower band", "Upper Band"], "range": ["#000000", "#2f4fd1", "#9fac94", "#c7716b"]}},
        "strokeDash": {"datum": "Price", "type": "nominal", "scale": {"domain": ["Price", "Miner Pressure", "Lower band", "Upper Band"], "range": [[1, 0], [1, 0], [2, 2], [2, 2]]}}
      }
    }
  ],
  "resolve": {"scale": {"y": "independent"}}
}
